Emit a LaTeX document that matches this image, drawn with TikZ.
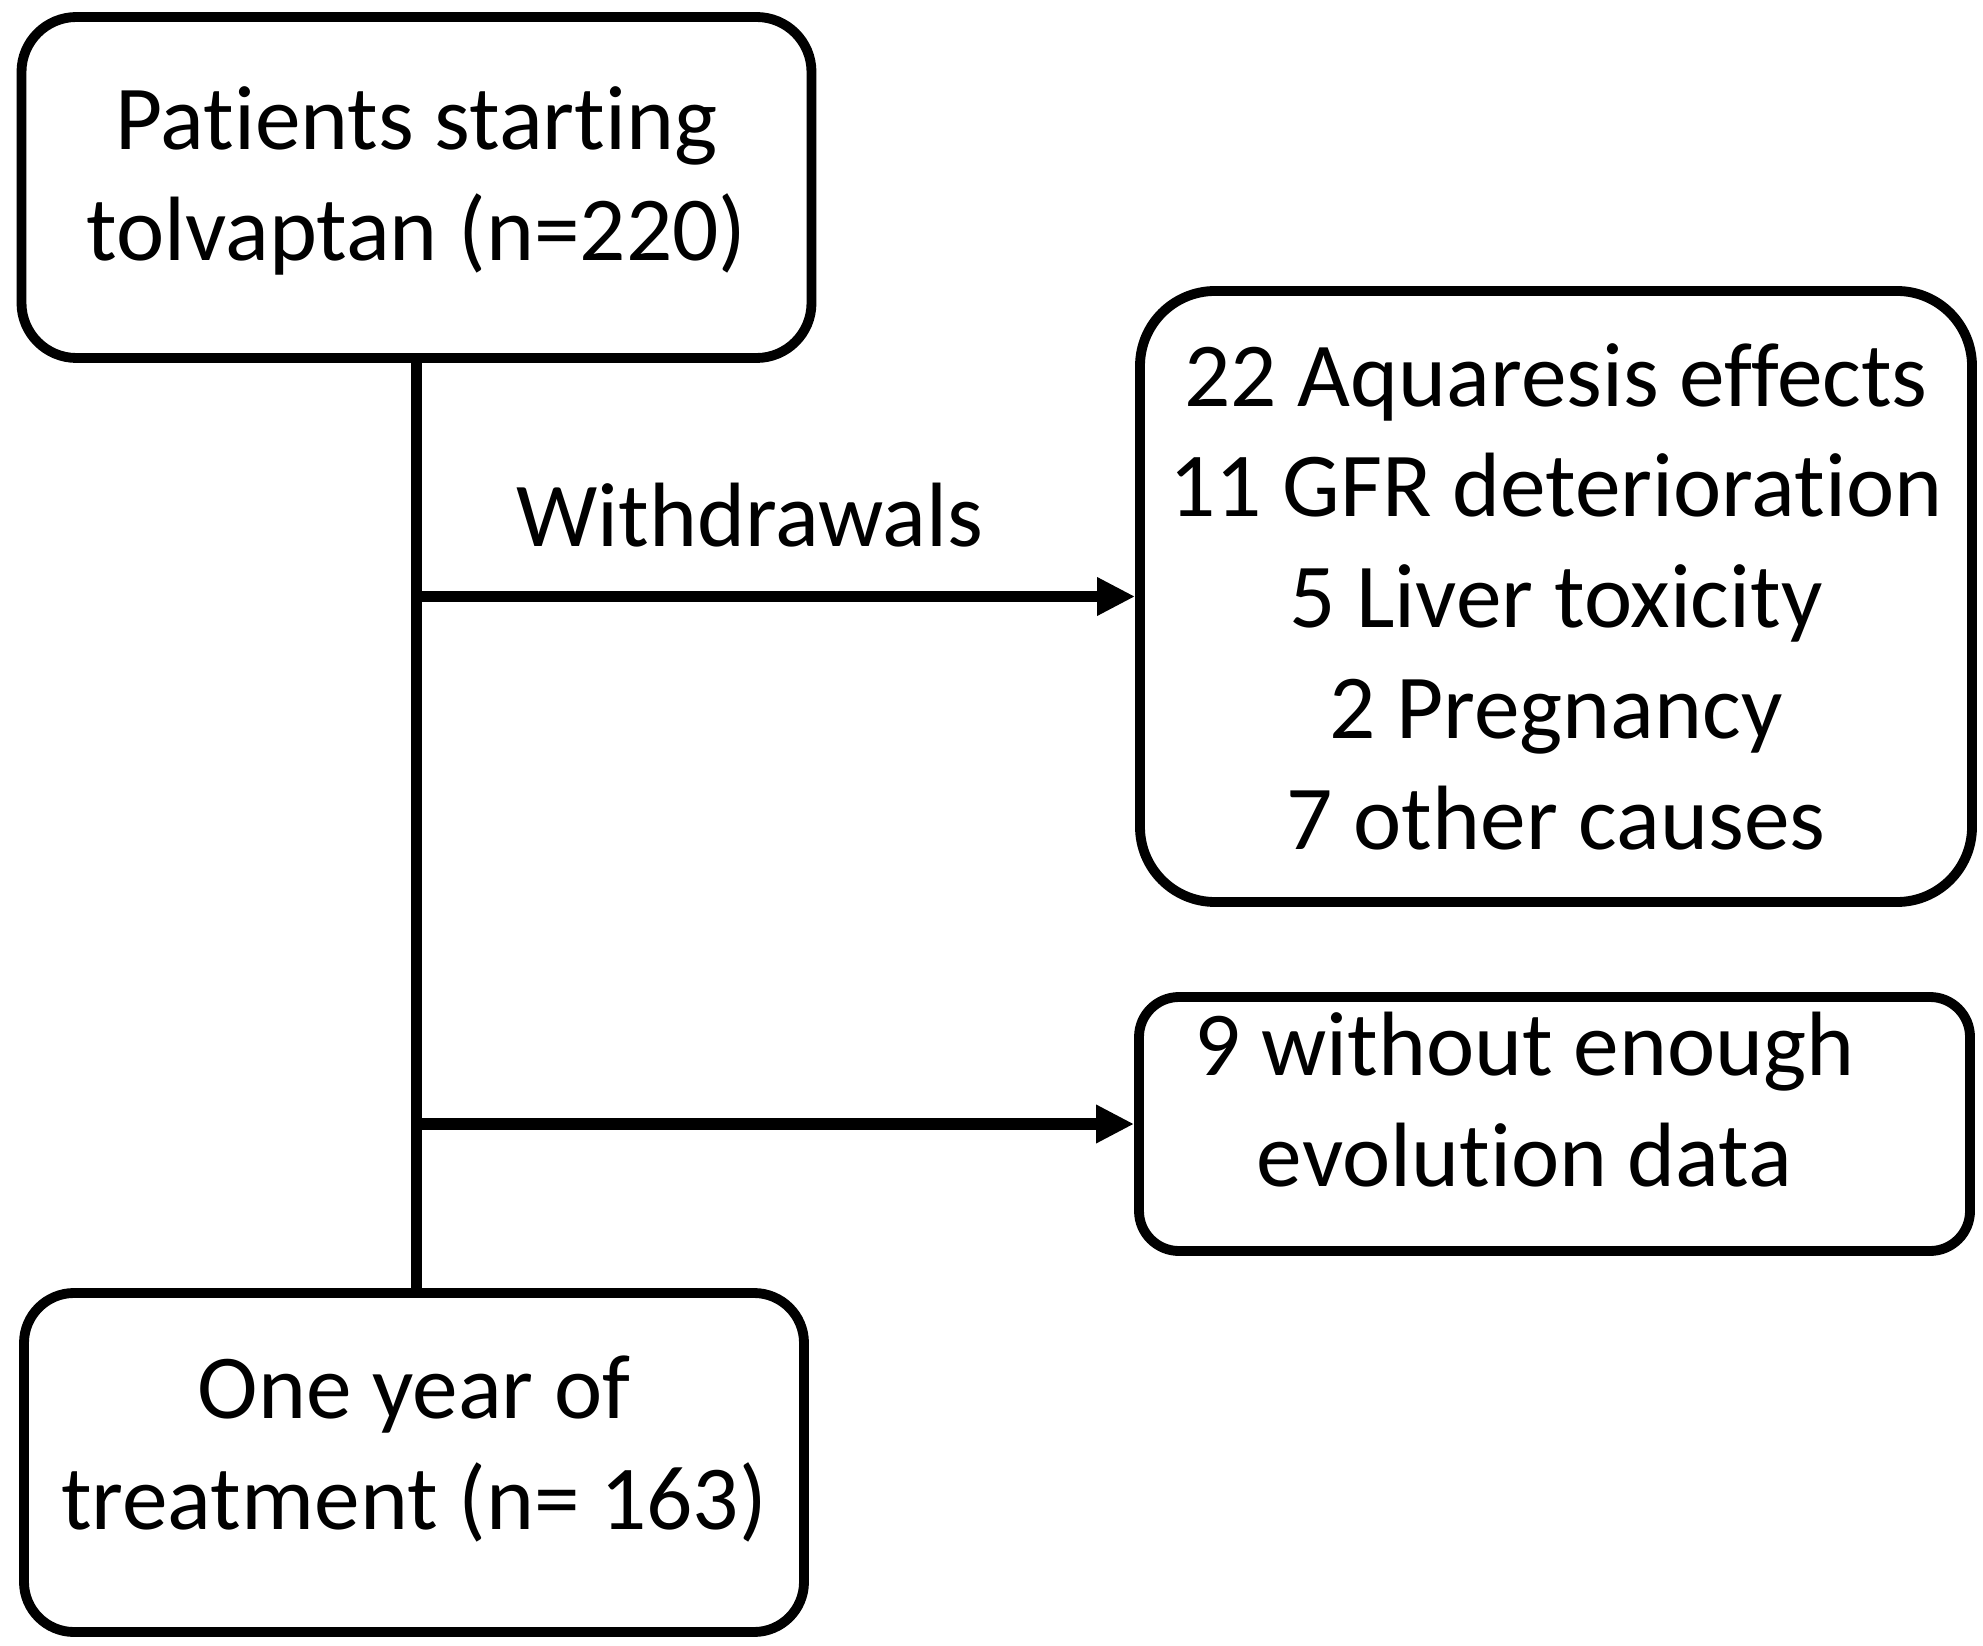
\documentclass[tikz,border=0pt]{standalone}
\usepackage{fontspec}
\setmainfont{Carlito}[Ligatures=NoCommon]
\usetikzlibrary{positioning}
\usetikzlibrary{arrows.meta}

\begin{document}
\begin{tikzpicture}[
        box/.style={draw, line width=2.8pt, align=center, inner sep=0pt, font=\fontsize{26}{31.5}\selectfont},
        link/.style={line width=3.4pt},
        arr/.style={line width=3.4pt, -{Triangle[length=0.38cm,width=0.36cm]}}
    ]
        \useasboundingbox (0,0) rectangle (19.83,-16.46);

        \node[box, rounded corners=0.55cm, minimum width=7.9cm, minimum height=3.41cm, text depth=0.28cm] (start) at (4.165,-1.875) {Patients starting\\tolvaptan (n=220)};
        \node[box, rounded corners=0.75cm, minimum width=8.32cm, minimum height=6.11cm] (reasons) at (15.56,-5.965) {22 Aquaresis effects\\11 GFR deterioration\\5 Liver toxicity\\2 Pregnancy\\7 other causes};
        \node[box, rounded corners=0.4cm, minimum width=8.31cm, minimum height=2.54cm, text depth=0.5cm] (nodata) at (15.545,-11.24) {9 without enough\hspace*{0.6cm}\\evolution data\hspace*{0.6cm}};
        \node[box, rounded corners=0.5cm, minimum width=7.8cm, minimum height=3.39cm, text depth=0.4cm] (year) at (4.14,-14.625) {One year of\\treatment (n= 163)};

        \draw[link] (start.south) -- (start.south |- year.north);
        \draw[arr] (start.south |- reasons.west) -- (reasons.west);
        \draw[arr] (start.south |- nodata.west) -- (nodata.west);
        \node[anchor=base, font=\fontsize{26}{31.5}\selectfont] (withdraw) at (7.5,-5.47) {Withdrawals};

    \end{tikzpicture}
\end{document}
